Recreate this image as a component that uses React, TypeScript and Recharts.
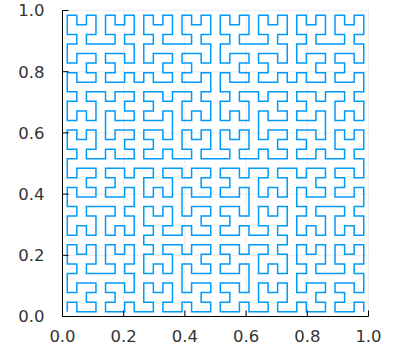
import React from "react";
import { LineChart, Line, XAxis, YAxis, CartesianGrid } from "recharts";

// Hilbert curve of order 5 (32 x 32 cells), starting bottom-left, ending bottom-right
const hilbertOrder = 5;
const xTicks = [0, 0.2, 0.4, 0.6, 0.8, 1.0];
const yTicks = [0, 0.2, 0.4, 0.6, 0.8, 1.0];
const seriesColor = "#009AFA";

function d2xy(n: number, d: number): [number, number] {
  let x = 0;
  let y = 0;
  let t = d;
  for (let s = 1; s < n; s *= 2) {
    const rx = 1 & Math.floor(t / 2);
    const ry = 1 & (t ^ rx);
    if (ry === 0) {
      if (rx === 1) {
        x = s - 1 - x;
        y = s - 1 - y;
      }
      const tmp = x;
      x = y;
      y = tmp;
    }
    x += s * rx;
    y += s * ry;
    t = Math.floor(t / 4);
  }
  return [x, y];
}

const side = Math.pow(2, hilbertOrder);
const curveCells: [number, number][] = [];
for (let d = 0; d < side * side; d++) curveCells.push(d2xy(side, d));
const data = curveCells.map(([cx, cy]) => ({ x: (cx + 0.5) / side, y: (cy + 0.5) / side }));

const fmt = (v: number) => v.toFixed(1);
const tickStyle = { fill: "#333", fontSize: 16.5, fontFamily: "DejaVu Sans" };

export default function App() {
  return (
    <div style={{ position: "absolute", left: 0, top: 0, width: 403, height: 355 }}>
      <LineChart
        width={403}
        height={355}
        data={data}
        margin={{ top: 10.5, right: 34.5, left: 0, bottom: 8.5 }}
      >
        <CartesianGrid
          stroke="#000"
          strokeOpacity={0.08}
          strokeWidth={1}
          horizontalValues={yTicks}
          verticalValues={xTicks}
        />
        <XAxis
          dataKey="x"
          type="number"
          domain={[0, 1]}
          ticks={xTicks}
          tickFormatter={fmt}
          height={30}
          tickSize={-6}
          tickMargin={20}
          axisLine={{ stroke: "#000", strokeWidth: 1 }}
          tickLine={{ stroke: "#000", strokeWidth: 1 }}
          tick={tickStyle}
          interval={0}
        />
        <YAxis
          dataKey="y"
          type="number"
          domain={[0, 1]}
          ticks={yTicks}
          tickFormatter={fmt}
          width={62.5}
          tickSize={-6}
          tickMargin={24}
          axisLine={{ stroke: "#000", strokeWidth: 1 }}
          tickLine={{ stroke: "#000", strokeWidth: 1 }}
          tick={tickStyle}
          interval={0}
        />
        <Line
          type="linear"
          dataKey="y"
          stroke={seriesColor}
          strokeWidth={1.5}
          dot={false}
          activeDot={false}
          isAnimationActive={false}
        />
      </LineChart>
    </div>
  );
}
